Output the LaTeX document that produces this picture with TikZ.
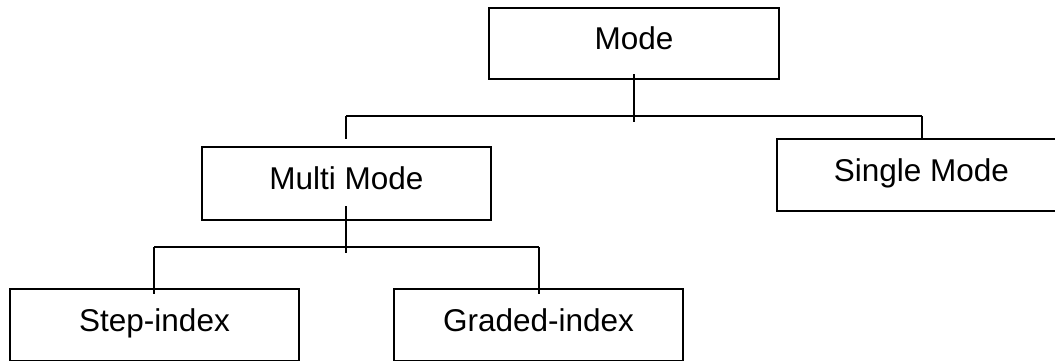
\documentclass[tikz,border=0pt]{standalone}
\usepackage{fontspec}
\setmainfont{Liberation Sans}
\usetikzlibrary{calc}
\begin{document}
\begin{tikzpicture}[x=1pt,y=1pt,
  box/.style={draw=black, line width=2.6pt, minimum width=289pt, minimum height=72pt,
    inner sep=0pt, text height=22pt, text depth=10pt, font=\fontsize{31.5pt}{36pt}\selectfont},
  conn/.style={draw=black, line width=2pt}]
\useasboundingbox (0,0) rectangle (1055,360);
\node[box, minimum width=290pt, minimum height=71pt] (mode) at (634,316.5) {Mode};
\node[box, minimum height=73pt] (multi) at (346.5,176.5) {Multi Mode};
\node[box] (single) at (921.5,185) {Single Mode};
\node[box] (step) at (154.5,35) {Step-index};
\node[box] (graded) at (538.5,35) {Graded-index};
% level 1 connectors
\coordinate (m1) at ($(mode.south)+(0,6)$);
\coordinate (m2) at ($(mode.south)+(0,-42)$);
\coordinate (h1l) at (346,244);
\coordinate (h1r) at (922,244);
\coordinate (d1) at (346,221);
\draw[conn] (m1) -- (m2);
\draw[conn] (h1l) -- (h1r);
\draw[conn] (h1l) -- (d1);
\draw[conn] (h1r) -- (single.north -| h1r);
% level 2 connectors
\coordinate (n1) at (346,154);
\coordinate (n2) at (346,107);
\coordinate (h2l) at (154,113);
\coordinate (h2r) at (539,113);
\coordinate (e1) at (154,66);
\coordinate (e2) at (539,66);
\draw[conn] (n1) -- (n2);
\draw[conn] (h2l) -- (h2r);
\draw[conn] (h2l) -- (e1);
\draw[conn] (h2r) -- (e2);
\end{tikzpicture}
\end{document}
